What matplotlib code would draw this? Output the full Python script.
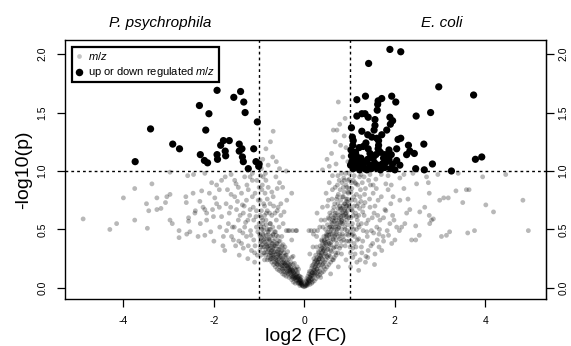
import numpy as np
import matplotlib
matplotlib.use("Agg")
import matplotlib.pyplot as plt
from matplotlib.lines import Line2D

plt.rcParams['font.family'] = ['Liberation Sans', 'DejaVu Sans']
plt.rcParams['mathtext.fontset'] = 'custom'
plt.rcParams['mathtext.rm'] = 'Liberation Sans'
plt.rcParams['mathtext.it'] = 'Liberation Sans:italic'

# ---------------- data (log2 FC, -log10 p) ----------------
sig_left = [(-1.93, 1.69), (-1.41, 1.68), (-1.56, 1.63), (-1.34, 1.59), (-2.32, 1.56),
            (-2.11, 1.49), (-1.31, 1.50), (-1.04, 1.42), (-3.40, 1.36), (-2.18, 1.35),
            (-1.79, 1.26), (-1.66, 1.26), (-1.85, 1.22), (-1.44, 1.23), (-2.91, 1.23),
            (-2.76, 1.19), (-1.38, 1.19), (-1.44, 1.17), (-1.12, 1.19), (-1.75, 1.17),
            (-1.74, 1.13), (-1.93, 1.14), (-1.92, 1.10), (-2.30, 1.14), (-2.21, 1.09),
            (-2.14, 1.07), (-1.37, 1.12), (-1.35, 1.08), (-1.07, 1.08), (-1.01, 1.04),
            (-1.24, 1.02), (-3.74, 1.08), (-1.00, 1.06)]

sig_right = [(1.89, 2.04), (2.13, 2.02), (1.42, 1.92), (2.97, 1.72), (3.74, 1.65),
             (1.35, 1.64), (1.93, 1.64), (1.16, 1.61), (1.71, 1.62), (1.63, 1.60),
             (2.02, 1.59), (1.62, 1.57), (1.61, 1.52), (2.79, 1.50), (2.47, 1.47),
             (1.16, 1.47), (1.27, 1.49), (1.34, 1.49), (1.41, 1.46), (1.56, 1.44),
             (1.89, 1.46), (1.95, 1.43), (1.90, 1.40), (1.56, 1.39), (1.04, 1.37),
             (1.27, 1.34), (1.54, 1.35), (1.82, 1.35), (1.40, 1.31), (1.71, 1.31),
             (1.49, 1.29), (1.60, 1.28), (1.06, 1.29), (1.08, 1.26), (2.07, 1.27),
             (2.13, 1.28), (1.64, 1.26), (1.36, 1.24), (1.64, 1.22), (2.30, 1.22),
             (2.64, 1.23), (1.21, 1.20), (1.30, 1.21), (1.41, 1.19), (1.87, 1.18),
             (2.04, 1.19), (1.63, 1.19), (2.26, 1.14), (2.43, 1.15), (2.33, 1.17),
             (1.04, 1.13), (1.15, 1.13), (1.25, 1.11), (1.40, 1.10), (1.52, 1.11),
             (1.75, 1.11), (1.87, 1.10), (3.78, 1.10), (3.92, 1.12), (2.83, 1.06),
             (2.46, 1.02), (2.65, 1.01), (3.25, 1.00), (2.04, 1.09), (2.11, 1.05),
             (1.02, 1.05), (1.05, 1.08), (1.08, 1.02), (1.10, 1.06), (1.12, 1.10),
             (1.18, 1.04), (1.20, 1.08), (1.22, 1.01), (1.28, 1.06), (1.32, 1.03),
             (1.35, 1.08), (1.38, 1.01), (1.45, 1.05), (1.48, 1.02), (1.55, 1.07),
             (1.58, 1.03), (1.62, 1.05), (1.68, 1.01), (1.72, 1.06), (1.78, 1.03),
             (1.82, 1.08), (1.90, 1.02), (1.95, 1.06), (2.00, 1.01), (1.03, 1.18),
             (1.07, 1.22), (1.13, 1.16), (1.45, 1.15), (1.58, 1.14), (1.68, 1.16),
             (1.78, 1.14), (1.92, 1.14)]

grey_left = [(-4.89, 0.59), (-4.30, 0.50), (-4.15, 0.55), (-4.00, 0.77), (-3.75, 0.85),
             (-3.75, 0.58), (-3.47, 0.51), (-3.37, 0.89), (-3.49, 0.72), (-3.44, 0.66),
             (-3.26, 0.77), (-3.26, 0.67), (-3.17, 0.68), (-3.07, 0.73), (-3.04, 0.78),
             (-2.97, 0.80), (-2.97, 0.58), (-2.92, 0.55), (-2.77, 0.49), (-2.77, 0.43),
             (-2.97, 0.99), (-2.62, 0.78), (-2.61, 0.73), (-2.58, 0.96), (-2.56, 0.60),
             (-2.56, 0.57), (-2.53, 0.48), (-2.60, 0.46), (-2.46, 0.81), (-2.42, 0.64),
             (-2.41, 0.66), (-2.35, 0.44), (-2.31, 0.74), (-2.27, 0.83), (-2.24, 0.69),
             (-2.20, 0.67), (-2.16, 0.58), (-2.16, 0.64), (-2.20, 0.45), (-2.05, 0.90),
             (-2.10, 0.81), (-2.07, 0.48), (-2.03, 0.67), (-2.01, 0.61), (-2.00, 0.40),
             (-1.98, 0.77), (-1.94, 0.72), (-1.94, 0.88), (-1.88, 0.69), (-1.88, 0.84),
             (-1.87, 0.52), (-1.83, 0.92), (-1.83, 0.61), (-1.79, 0.44), (-1.76, 0.32),
             (-1.73, 0.72), (-1.72, 0.49), (-1.70, 0.84), (-1.68, 0.55), (-1.66, 0.64),
             (-1.63, 0.69), (-1.61, 0.44), (-1.59, 0.52), (-1.57, 0.41), (-1.54, 0.78),
             (-1.54, 0.92), (-1.51, 0.89), (-1.50, 0.67), (-1.46, 0.86), (-1.46, 0.58),
             (-1.44, 0.28), (-1.43, 0.49), (-1.39, 0.81), (-1.39, 0.38), (-1.37, 0.71),
             (-1.35, 0.64), (-1.35, 0.34), (-1.32, 0.52), (-1.32, 0.95), (-1.28, 0.75),
             (-1.28, 0.44), (-1.25, 0.58), (-1.24, 0.84), (-1.20, 0.67), (-1.19, 0.49),
             (-1.17, 0.32), (-1.15, 0.92), (-1.13, 0.69), (-1.12, 0.41), (-1.09, 0.81),
             (-1.07, 0.61), (-1.06, 0.52), (-1.04, 0.28), (-1.02, 0.75), (-1.00, 0.86),
             (-2.45, 0.97), (-2.20, 0.98), (-1.75, 0.95), (-1.62, 0.97), (-1.15, 0.98),
             (-1.80, 0.36), (-2.30, 0.55), (-1.52, 0.36), (-1.25, 0.25), (-1.10, 0.22),
             (-1.03, 0.48), (-1.06, 0.66), (-1.09, 0.36), (-1.12, 0.58), (-1.15, 0.78),
             (-1.18, 0.45), (-1.21, 0.62), (-1.24, 0.36), (-1.27, 0.88), (-1.30, 0.56),
             (-1.33, 0.70), (-1.36, 0.47), (-1.42, 0.62), (-1.48, 0.74), (-1.55, 0.52),
             (-1.62, 0.80), (-1.05, 0.92), (-1.10, 0.30), (-1.20, 0.95), (-1.45, 0.40)]

grey_right = [(4.95, 0.49), (4.83, 0.75), (4.18, 0.65), (4.01, 0.71), (3.94, 0.95),
              (3.76, 0.49), (3.61, 0.47), (3.64, 0.84), (3.58, 0.84), (3.50, 0.73),
              (3.35, 0.83), (3.21, 0.48), (3.14, 0.45), (3.18, 0.77), (3.08, 0.77),
              (3.03, 0.44), (2.99, 0.75), (2.85, 0.59), (2.81, 0.58), (2.77, 0.55),
              (2.76, 0.62), (2.76, 0.81), (2.74, 0.90), (2.70, 0.95), (2.66, 0.69),
              (2.55, 0.65), (2.54, 0.45), (2.48, 0.89), (2.46, 0.41), (2.46, 0.53),
              (2.37, 0.41), (2.33, 0.67), (2.29, 0.76), (2.26, 0.64), (2.22, 0.55),
              (2.20, 0.85), (2.15, 0.52), (2.11, 0.75), (2.11, 0.94), (2.10, 0.49),
              (2.04, 0.52), (2.00, 0.41), (1.96, 0.78), (1.95, 0.62), (1.93, 0.38),
              (1.91, 0.72), (1.89, 0.55), (1.85, 0.84), (1.83, 0.49), (1.80, 0.89),
              (1.78, 0.67), (1.74, 0.44), (1.71, 0.32), (1.67, 0.58), (1.65, 0.35),
              (1.63, 0.75), (1.61, 0.41), (1.60, 0.52), (1.58, 0.93), (1.56, 0.29),
              (1.54, 0.64), (1.52, 0.81), (1.51, 0.38), (1.48, 0.49), (1.46, 0.88),
              (1.45, 0.69), (1.41, 0.32), (1.39, 0.44), (1.37, 0.55), (1.36, 0.27),
              (1.34, 0.73), (1.32, 0.95), (1.30, 0.49), (1.29, 0.65), (1.26, 0.35),
              (1.24, 0.84), (1.23, 0.24), (1.21, 0.52), (1.19, 0.72), (1.17, 0.41),
              (1.15, 0.61), (1.14, 0.89), (1.12, 0.29), (1.09, 0.78), (1.08, 0.46),
              (1.06, 0.55), (1.04, 0.67), (1.02, 0.18), (1.01, 0.35), (0.99, 0.98),
              (2.95, 0.97), (3.40, 0.98), (4.45, 0.97), (2.40, 0.98), (1.70, 0.97),
              (1.25, 0.97), (1.45, 0.97), (1.85, 0.96), (2.20, 0.97), (1.10, 0.96),
              (1.35, 0.22), (1.55, 0.20), (1.20, 0.15), (1.65, 0.46), (1.75, 0.60),
              (1.02, 0.30), (1.05, 0.52), (1.08, 0.62), (1.11, 0.44), (1.14, 0.35),
              (1.17, 0.58), (1.20, 0.42), (1.23, 0.78), (1.26, 0.55), (1.29, 0.40),
              (1.32, 0.62), (1.35, 0.85), (1.38, 0.48), (1.41, 0.58), (1.44, 0.76),
              (1.47, 0.36), (1.50, 0.60), (1.53, 0.47), (1.56, 0.70), (1.59, 0.85),
              (1.62, 0.62), (1.66, 0.50), (1.70, 0.78), (1.75, 0.40), (1.80, 0.66),
              (1.86, 0.45), (1.92, 0.88), (1.98, 0.58), (1.04, 0.75), (1.12, 0.90),
              (1.22, 0.95), (1.30, 0.70), (1.42, 0.92), (1.52, 0.88), (1.07, 0.26),
              (1.16, 0.22), (1.27, 0.30), (1.40, 0.26)]

grey_upper = [(0.75, 1.59), (0.64, 1.35), (0.72, 1.35), (-0.69, 1.34), (-0.85, 1.19),
              (-0.80, 1.05), (-0.55, 1.02), (-0.92, 1.10), (-0.70, 1.12), (0.55, 1.04),
              (0.85, 1.12), (0.70, 1.06), (0.92, 1.20), (0.40, 1.01), (0.88, 1.30),
              (-0.95, 1.02), (0.96, 1.08), (-0.40, 1.00), (0.60, 1.15), (0.80, 1.22),
              (-0.62, 1.08), (-0.75, 1.25), (0.50, 1.10), (0.68, 1.25), (0.78, 1.40),
              (0.90, 1.45)]

grey_core_left = [(-0.95, 0.66), (-0.91, 0.95), (-0.87, 0.81), (-0.84, 0.64), (-0.80, 0.86),
                  (-0.78, 0.41), (-0.76, 0.72), (-0.75, 0.55), (-0.73, 0.32), (-0.69, 0.78),
                  (-0.69, 0.46), (-0.65, 0.64), (-0.63, 0.24), (-0.61, 0.38), (-0.58, 0.69),
                  (-0.56, 0.52), (-0.54, 0.30), (-0.50, 0.44), (-0.47, 0.55), (-0.45, 0.21),
                  (-0.43, 0.35), (-0.39, 0.75), (-0.36, 0.49), (-0.32, 0.15), (-0.28, 0.81),
                  (-0.28, 0.41), (-0.25, 0.27), (-0.21, 0.09), (-0.17, 0.49), (-0.16, 0.18),
                  (-0.10, 0.07), (-0.06, 0.04), (-0.98, 0.44), (-0.97, 0.35), (-0.92, 0.55),
                  (-0.90, 0.30), (-0.82, 0.24), (-0.95, 0.40), (-0.92, 0.35), (-0.90, 0.45),
                  (-0.88, 0.30), (-0.85, 0.38), (-0.83, 0.42), (-0.80, 0.33), (-0.78, 0.28),
                  (-0.76, 0.36), (-0.74, 0.30), (-0.72, 0.25), (-0.70, 0.34), (-0.68, 0.28),
                  (-0.66, 0.22), (-0.64, 0.31), (-0.62, 0.26), (-0.60, 0.20), (-0.58, 0.29),
                  (-0.56, 0.24), (-0.54, 0.18), (-0.52, 0.27), (-0.50, 0.21), (-0.48, 0.16),
                  (-0.46, 0.24), (-0.44, 0.19), (-0.42, 0.14), (-0.40, 0.22), (-0.38, 0.17),
                  (-0.36, 0.12), (-0.34, 0.19), (-0.32, 0.14), (-0.30, 0.10), (-0.28, 0.16),
                  (-0.26, 0.12), (-0.24, 0.08), (-0.22, 0.13), (-0.20, 0.09), (-0.18, 0.06),
                  (-0.16, 0.10), (-0.14, 0.07), (-0.12, 0.04), (-0.10, 0.06), (-0.08, 0.03),
                  (-0.06, 0.04), (-0.04, 0.02), (-0.02, 0.01), (-1.00, 0.55), (-0.95, 0.60),
                  (-0.90, 0.52), (-0.85, 0.58), (-0.80, 0.48), (-0.75, 0.50), (-0.70, 0.45),
                  (-0.65, 0.42), (-0.60, 0.38), (-0.55, 0.35), (-0.50, 0.32), (-0.45, 0.30),
                  (-0.40, 0.28), (-0.35, 0.25), (-0.30, 0.22), (-0.25, 0.20), (-0.20, 0.16),
                  (-0.15, 0.13), (-0.10, 0.10), (-0.05, 0.06), (-0.40, 0.49), (-0.33, 0.49),
                  (-0.26, 0.49), (-0.19, 0.49), (-0.88, 0.70), (-0.72, 0.62), (-0.62, 0.58),
                  (-0.98, 0.75), (-0.93, 0.88), (-0.85, 0.92), (-0.60, 0.85), (-0.52, 0.62),
                  (-0.82, 0.50), (-0.67, 0.36), (-0.57, 0.40), (-0.47, 0.37), (-0.37, 0.31),
                  (-0.28, 0.26), (-0.22, 0.21), (-0.13, 0.16), (-0.07, 0.09), (-0.03, 0.05),
                  (-0.05, 0.02), (-0.07, 0.05), (-0.09, 0.04), (-0.11, 0.08), (-0.13, 0.05),
                  (-0.15, 0.09), (-0.17, 0.07), (-0.19, 0.11), (-0.21, 0.08), (-0.23, 0.12),
                  (-0.25, 0.10), (-0.27, 0.14), (-0.29, 0.11), (-0.31, 0.16), (-0.33, 0.13),
                  (-0.35, 0.17), (-0.37, 0.14), (-0.39, 0.19), (-0.41, 0.16), (-0.43, 0.21),
                  (-0.45, 0.17), (-0.47, 0.22), (-0.49, 0.19), (-0.51, 0.24), (-0.53, 0.20),
                  (-0.55, 0.26), (-0.57, 0.22), (-0.59, 0.27), (-0.61, 0.23), (-0.63, 0.29),
                  (-0.65, 0.25), (-0.67, 0.31), (-0.69, 0.26), (-0.71, 0.32), (-0.73, 0.28),
                  (-0.75, 0.34), (-0.77, 0.30), (-0.79, 0.36), (-0.81, 0.31), (-0.83, 0.37),
                  (-0.85, 0.33), (-0.87, 0.39), (-0.89, 0.35), (-0.91, 0.41), (-0.93, 0.37),
                  (-0.95, 0.43), (-0.97, 0.39), (-0.99, 0.46), (-0.06, 0.03), (-0.12, 0.06),
                  (-0.18, 0.09), (-0.24, 0.13), (-0.30, 0.15), (-0.36, 0.18), (-0.42, 0.20),
                  (-0.48, 0.25), (-0.54, 0.28), (-0.60, 0.31), (-0.66, 0.35), (-0.72, 0.38),
                  (-0.78, 0.42), (-0.84, 0.45), (-0.90, 0.49), (-0.96, 0.52), (-0.14, 0.04),
                  (-0.26, 0.09), (-0.38, 0.13), (-0.50, 0.17), (-0.62, 0.21), (-0.74, 0.25),
                  (-0.86, 0.28), (-0.98, 0.32), (-0.44, 0.27), (-0.56, 0.33), (-0.68, 0.40),
                  (-0.80, 0.46), (-0.92, 0.58), (-0.64, 0.48), (-0.76, 0.55), (-0.88, 0.62),
                  (-0.58, 0.44), (-0.70, 0.52), (-0.82, 0.66), (-0.52, 0.72), (-0.55, 0.90),
                  (-0.60, 0.66), (-0.63, 0.95), (-0.68, 0.70), (-0.72, 0.82), (-0.77, 0.64),
                  (-0.82, 0.76), (-0.86, 0.98), (-0.90, 0.72), (-0.94, 0.84), (-0.97, 0.96),
                  (-0.45, 0.65), (-0.48, 0.86)]

grey_core_left_extra = [(-0.18, 0.15), (-0.22, 0.17), (-0.20, 0.04), (-0.24, 0.05), (-0.28, 0.07),
                        (-0.32, 0.20), (-0.34, 0.09), (-0.38, 0.24), (-0.40, 0.10), (-0.42, 0.28),
                        (-0.44, 0.11), (-0.46, 0.33), (-0.48, 0.12), (-0.50, 0.36), (-0.52, 0.14),
                        (-0.54, 0.40), (-0.56, 0.15), (-0.58, 0.33), (-0.60, 0.16), (-0.62, 0.45),
                        (-0.64, 0.18), (-0.66, 0.48), (-0.68, 0.20), (-0.70, 0.38), (-0.72, 0.22),
                        (-0.74, 0.44), (-0.76, 0.24), (-0.78, 0.50), (-0.80, 0.26), (-0.84, 0.54),
                        (-0.88, 0.24), (-0.92, 0.46), (-0.96, 0.28), (-0.30, 0.18), (-0.36, 0.21),
                        (-0.26, 0.15), (-0.16, 0.12), (-0.12, 0.10), (-0.08, 0.07), (-0.10, 0.02),
                        (-0.46, 0.14), (-0.52, 0.30), (-0.58, 0.20), (-0.64, 0.36), (-0.70, 0.28),
                        (-0.76, 0.40), (-0.82, 0.35), (-0.88, 0.42), (-0.94, 0.50), (-0.98, 0.62)]

grey_core_right = [(0.01, 0.01), (0.08, 0.04), (0.12, 0.29), (0.16, 0.07), (0.20, 0.46),
                   (0.23, 0.15), (0.27, 0.35), (0.28, 0.64), (0.31, 0.24), (0.34, 0.52),
                   (0.36, 0.09), (0.38, 0.41), (0.40, 0.69), (0.42, 0.32), (0.43, 0.18),
                   (0.45, 0.58), (0.48, 0.81), (0.49, 0.46), (0.50, 0.27), (0.53, 0.75),
                   (0.55, 0.38), (0.56, 0.64), (0.58, 0.12), (0.60, 0.52), (0.62, 0.84),
                   (0.64, 0.24), (0.65, 0.69), (0.67, 0.44), (0.70, 0.58), (0.71, 0.35),
                   (0.73, 0.78), (0.75, 0.18), (0.77, 0.92), (0.78, 0.46), (0.80, 0.67),
                   (0.82, 0.29), (0.84, 0.55), (0.86, 0.86), (0.87, 0.41), (0.90, 0.72),
                   (0.92, 0.24), (0.93, 0.61), (0.95, 0.49), (0.97, 0.81), (0.10, 0.49),
                   (0.15, 0.49), (0.22, 0.49), (0.29, 0.49), (0.02, 0.02), (0.04, 0.03),
                   (0.06, 0.05), (0.08, 0.07), (0.10, 0.06), (0.12, 0.09), (0.14, 0.11),
                   (0.16, 0.10), (0.18, 0.13), (0.20, 0.15), (0.22, 0.12), (0.24, 0.18),
                   (0.26, 0.20), (0.28, 0.16), (0.30, 0.22), (0.32, 0.25), (0.34, 0.20),
                   (0.36, 0.27), (0.38, 0.30), (0.40, 0.24), (0.42, 0.33), (0.44, 0.36),
                   (0.46, 0.29), (0.48, 0.39), (0.50, 0.42), (0.52, 0.33), (0.54, 0.45),
                   (0.56, 0.48), (0.58, 0.37), (0.60, 0.50), (0.62, 0.55), (0.64, 0.41),
                   (0.66, 0.57), (0.68, 0.62), (0.70, 0.46), (0.72, 0.64), (0.74, 0.68),
                   (0.76, 0.52), (0.78, 0.70), (0.80, 0.75), (0.82, 0.58), (0.84, 0.78),
                   (0.86, 0.62), (0.88, 0.82), (0.90, 0.66), (0.92, 0.88), (0.94, 0.70),
                   (0.96, 0.92), (0.98, 0.60), (0.05, 0.08), (0.11, 0.14), (0.17, 0.19),
                   (0.21, 0.25), (0.25, 0.28), (0.31, 0.31), (0.35, 0.36), (0.39, 0.40),
                   (0.43, 0.44), (0.47, 0.50), (0.51, 0.54), (0.55, 0.59), (0.59, 0.62),
                   (0.63, 0.66), (0.67, 0.72), (0.71, 0.76), (0.75, 0.80), (0.79, 0.84),
                   (0.83, 0.90), (0.87, 0.94), (0.91, 0.98), (0.95, 0.76), (0.99, 0.70),
                   (0.33, 0.14), (0.45, 0.22), (0.57, 0.27), (0.69, 0.30), (0.81, 0.36),
                   (0.93, 0.40), (0.41, 0.52), (0.53, 0.60), (0.65, 0.52), (0.77, 0.60),
                   (0.89, 0.52), (0.97, 0.45), (0.37, 0.58), (0.51, 0.70), (0.61, 0.76),
                   (0.73, 0.88), (0.85, 0.70), (0.95, 0.62), (0.19, 0.35), (0.27, 0.44),
                   (1.05, 0.85), (1.10, 0.70), (1.15, 0.80), (1.20, 0.62), (1.25, 0.74),
                   (1.05, 0.45), (1.10, 0.38), (1.15, 0.50), (1.03, 0.60), (1.08, 0.92),
                   (1.18, 0.88), (1.28, 0.90), (1.33, 0.80), (1.12, 0.75), (1.22, 0.68),
                   (0.03, 0.02), (0.05, 0.04), (0.07, 0.03), (0.09, 0.07), (0.11, 0.06),
                   (0.13, 0.10), (0.15, 0.08), (0.17, 0.13), (0.19, 0.11), (0.21, 0.16),
                   (0.23, 0.13), (0.25, 0.19), (0.27, 0.16), (0.29, 0.22), (0.31, 0.19),
                   (0.33, 0.25), (0.35, 0.22), (0.37, 0.28), (0.39, 0.25), (0.41, 0.31),
                   (0.43, 0.27), (0.45, 0.34), (0.47, 0.30), (0.49, 0.37), (0.51, 0.33),
                   (0.53, 0.40), (0.55, 0.36), (0.57, 0.43), (0.59, 0.39), (0.61, 0.46),
                   (0.63, 0.42), (0.65, 0.49), (0.67, 0.45), (0.69, 0.52), (0.71, 0.48),
                   (0.73, 0.55), (0.75, 0.51), (0.77, 0.58), (0.79, 0.54), (0.81, 0.61),
                   (0.83, 0.57), (0.85, 0.64), (0.87, 0.60), (0.89, 0.67), (0.91, 0.63),
                   (0.93, 0.70), (0.95, 0.66), (0.97, 0.73), (0.99, 0.69), (0.06, 0.02),
                   (0.12, 0.05), (0.18, 0.08), (0.24, 0.11), (0.30, 0.14), (0.36, 0.17),
                   (0.42, 0.21), (0.48, 0.24), (0.54, 0.28), (0.60, 0.31), (0.66, 0.35),
                   (0.72, 0.38), (0.78, 0.42), (0.84, 0.46), (0.90, 0.50), (0.96, 0.54),
                   (0.14, 0.14), (0.26, 0.24), (0.38, 0.34), (0.50, 0.45), (0.62, 0.58),
                   (0.74, 0.72), (0.86, 0.78), (0.98, 0.85), (0.44, 0.40), (0.56, 0.52),
                   (0.68, 0.60), (0.80, 0.68), (0.92, 0.76), (0.58, 0.32), (0.70, 0.41),
                   (0.82, 0.50), (0.94, 0.58), (0.55, 0.90), (0.62, 0.96), (0.68, 0.86),
                   (0.74, 0.96), (0.82, 0.98), (0.88, 0.92), (0.94, 0.86), (0.99, 0.93)]

grey_core_right_extra = [(0.04, 0.06), (0.08, 0.10), (0.12, 0.03), (0.16, 0.17), (0.18, 0.05),
                         (0.20, 0.20), (0.22, 0.06), (0.24, 0.23), (0.26, 0.08), (0.28, 0.26),
                         (0.30, 0.10), (0.32, 0.30), (0.34, 0.11), (0.36, 0.33), (0.38, 0.13),
                         (0.40, 0.37), (0.42, 0.14), (0.44, 0.41), (0.46, 0.16), (0.48, 0.44),
                         (0.50, 0.18), (0.52, 0.48), (0.54, 0.20), (0.56, 0.52), (0.58, 0.22),
                         (0.60, 0.56), (0.62, 0.24), (0.64, 0.60), (0.66, 0.26), (0.68, 0.64),
                         (0.70, 0.28), (0.72, 0.50), (0.74, 0.30), (0.76, 0.62), (0.78, 0.34),
                         (0.80, 0.56), (0.82, 0.40), (0.84, 0.68), (0.86, 0.44), (0.88, 0.72),
                         (0.90, 0.36), (0.92, 0.64), (0.94, 0.46), (0.96, 0.82), (0.98, 0.40),
                         (0.28, 0.12), (0.34, 0.28), (0.40, 0.20), (0.46, 0.38), (0.52, 0.26),
                         (0.58, 0.46), (0.64, 0.34), (0.70, 0.55), (0.76, 0.44), (0.82, 0.64),
                         (0.88, 0.56), (0.94, 0.74), (0.22, 0.22), (0.16, 0.04), (0.10, 0.12),
                         (1.02, 0.40), (1.06, 0.66), (1.09, 0.50), (1.13, 0.64), (1.03, 0.82),
                         (1.07, 0.34), (1.16, 0.70), (1.19, 0.54), (1.01, 0.48), (1.04, 0.90)]

xticks = [-4, -2, 0, 2, 4]
yticks = [0.0, 0.5, 1.0, 1.5, 2.0]
fc_cut = 1.0
p_cut = 1.0

# ---------------- plotting ----------------
fig = plt.figure(figsize=(5.71, 3.46), dpi=100)
ax = fig.add_axes([0.1147, 0.1358, 0.8415, 0.7484])

grey_all = np.array(grey_left + grey_right + grey_upper + grey_core_left + grey_core_right
                    + grey_core_left_extra + grey_core_right_extra)
sig_all = np.array(sig_left + sig_right)

ax.scatter(grey_all[:, 0], grey_all[:, 1], s=12, color='black', alpha=0.28,
           edgecolors='none', zorder=2)
ax.scatter(sig_all[:, 0], sig_all[:, 1], s=27, color='black',
           edgecolors='none', zorder=3)

ax.axvline(-fc_cut, color='black', lw=1.0, ls=(0, (2, 2.2)), zorder=1)
ax.axvline(fc_cut, color='black', lw=1.0, ls=(0, (2, 2.2)), zorder=1)
ax.axhline(p_cut, color='black', lw=1.0, ls=(0, (2, 2.2)), zorder=1)

ax.set_xlim(-5.28, 5.34)
ax.set_ylim(-0.095, 2.12)
ax.set_xticks(xticks)
ax.set_xticklabels([str(t) for t in xticks])
ax.set_yticks(yticks)
ax.set_yticklabels(['%.1f' % t for t in yticks])

for sp in ax.spines.values():
    sp.set_linewidth(1.0)
ax.tick_params(axis='x', direction='out', length=6, width=0.9, labelsize=7.5, pad=6)
ax.tick_params(axis='y', direction='out', length=6, width=0.9, labelsize=7.5, pad=7)
for lab in ax.get_yticklabels():
    lab.set_rotation(90)
    lab.set_va('center')

sec = ax.secondary_yaxis('right')
sec.set_yticks(yticks)
sec.set_yticklabels(['%.1f' % t for t in yticks])
sec.tick_params(axis='y', direction='out', length=6, width=0.9, labelsize=7.5, pad=3)
for lab in sec.get_yticklabels():
    lab.set_rotation(90)
    lab.set_va('center')

ax.set_xlabel('log2 (FC)', fontsize=14, labelpad=2)
ax.set_ylabel('-log10(p)', fontsize=14, labelpad=4)

ax.text(-3.19, 2.21, 'P. psychrophila', fontsize=11, style='italic',
        ha='center', va='bottom')
ax.text(3.03, 2.21, 'E. coli', fontsize=11, style='italic',
        ha='center', va='bottom')

handles = [Line2D([], [], ls='none', marker='o', ms=3.4, color='#c4c4c4', mec='none'),
           Line2D([], [], ls='none', marker='o', ms=5.4, color='black', mec='none')]
leg = ax.legend(handles, [r'$\it{m/z}$', r'up or down regulated $\it{m/z}$'],
                loc='upper left', bbox_to_anchor=(0.0129, 0.974), borderaxespad=0,
                fontsize=8, frameon=True, fancybox=False, framealpha=1,
                edgecolor='black', borderpad=0.25, labelspacing=0.35,
                handlelength=0.9, handletextpad=0.35)
leg.get_frame().set_linewidth(1.6)

fig.savefig('out.png', dpi=100)
